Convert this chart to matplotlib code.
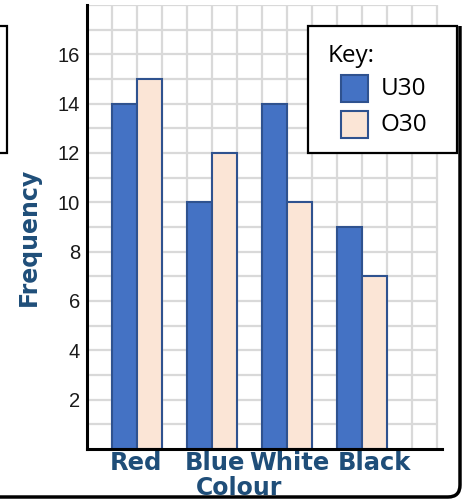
import matplotlib
matplotlib.use("Agg")
import matplotlib.pyplot as plt
import numpy as np
from matplotlib.patches import Rectangle, PathPatch
from matplotlib.path import Path

categories = ["Red", "Blue", "White", "Black"]
u30 = [14, 10, 14, 9]
o30 = [15, 12, 10, 7]
series_names = ["U30", "O30"]
y_tick_values = [2, 4, 6, 8, 10, 12, 14, 16]

W, H = 463, 499
DPI = 100
fig = plt.figure(figsize=(W / DPI, H / DPI), dpi=DPI)

def fx(px):
    return px / W

def fy(py):
    return 1 - py / H

ax_l, ax_r, ax_t, ax_b = 87, 442, 5, 449
ax = fig.add_axes([fx(ax_l), fy(ax_b), fx(ax_r - ax_l), (ax_b - ax_t) / H])

XMAX = 14
ax.set_xlim(0, XMAX * (ax_r - ax_l) / 350)
ax.set_ylim(0, 18)

grid_col = "#D9D9D9"
ax.vlines(np.arange(1, XMAX + 1), 0, 18, color=grid_col, lw=1.6, zorder=0)
ax.hlines(np.arange(1, 19), 0, XMAX, color=grid_col, lw=1.6, zorder=0)

u_col, o_col, edge_col = "#4472C4", "#FBE5D6", "#2F528F"
group_starts = np.arange(len(categories)) * 3 + 1
ax.bar(group_starts, u30, width=1, align="edge", color=u_col,
       edgecolor=edge_col, linewidth=1.5, zorder=2)
ax.bar(group_starts + 1, o30, width=1, align="edge", color=o_col,
       edgecolor=edge_col, linewidth=1.5, zorder=2)

for s in ["top", "right"]:
    ax.spines[s].set_visible(False)
for s in ["left", "bottom"]:
    ax.spines[s].set_linewidth(2.2)
    ax.spines[s].set_color("black")
    ax.spines[s].set_zorder(3)

ax.set_yticks(y_tick_values)
ax.set_yticklabels([str(v) for v in y_tick_values], family="Liberation Sans",
                   fontsize=14.5, color="#1a1a1a")
ax.tick_params(axis="y", length=0, pad=5)

label_col = "#1F4E79"
tick_pos = [1.95, 5.12, 8.1, 11.5]
ax.set_xticks(tick_pos)
ax.set_xticklabels(categories, family="DejaVu Sans", fontweight="bold",
                   fontsize=17.5, color=label_col)
ax.tick_params(axis="x", length=0, pad=1.5)

fig.text(fx(239), fy(488), "Colour", family="DejaVu Sans", fontweight="bold",
         fontsize=17, color=label_col, ha="center", va="center")
fig.text(fx(29), fy(237), "Frequency", family="DejaVu Sans", fontweight="bold",
         fontsize=17, color=label_col, ha="center", va="center", rotation=90)

# Legend box
fig.add_artist(Rectangle((fx(308), fy(153)), fx(457 - 308), (153 - 26) / H,
                         transform=fig.transFigure, facecolor="white",
                         edgecolor="black", lw=1.6, zorder=5))
fig.text(fx(328), fy(56), "Key:", family="Open Sans", fontsize=17.5,
         ha="left", va="center", zorder=6)
for i, (name, col) in enumerate(zip(series_names, [u_col, o_col])):
    top = 75 + i * 36
    fig.add_artist(Rectangle((fx(341), fy(top + 27)), fx(27), 27 / H,
                             transform=fig.transFigure, facecolor=col,
                             edgecolor=edge_col, lw=1.5, zorder=6))
    fig.text(fx(381), fy(top + 14), name, family="Open Sans", fontsize=17.5,
             ha="left", va="center", zorder=6)

# Left box fragment
fig.add_artist(Rectangle((fx(-20), fy(153)), fx(27), (153 - 26) / H,
                         transform=fig.transFigure, facecolor="none",
                         edgecolor="black", lw=1.6, zorder=5))

# Outer rounded frame (right and bottom)
verts = [(fx(460), fy(26)), (fx(460), fy(485)), (fx(460), fy(497)),
         (fx(448), fy(497)), (fx(0), fy(497))]
codes = [Path.MOVETO, Path.LINETO, Path.CURVE3, Path.CURVE3, Path.LINETO]
fig.add_artist(PathPatch(Path(verts, codes), transform=fig.transFigure,
                         facecolor="none", edgecolor="black", lw=2.5, zorder=7))

fig.savefig("out.png", dpi=DPI)
